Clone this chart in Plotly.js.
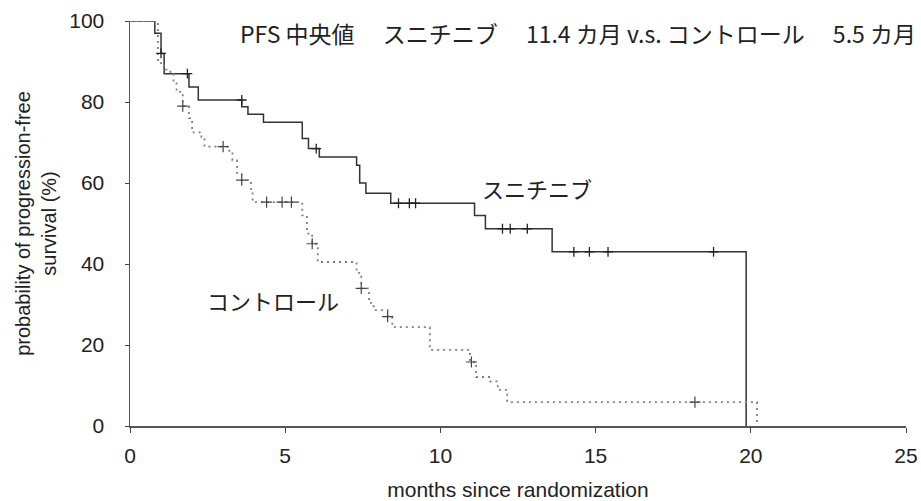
<!DOCTYPE html>
<html><head><meta charset="utf-8">
<script src="https://cdn.plot.ly/plotly-3.0.1.min.js"></script>
<style>html,body{margin:0;padding:0;background:#fff}#c{width:921px;height:501px}</style>
</head><body><div id="c"></div>
<script>
// Sunitinib (solid) step curve
const sunT = [0, 0.8, 1.0, 1.1, 1.9, 2.2, 3.6, 3.8, 4.3, 5.55, 5.75, 6.1, 7.3, 7.4, 7.6, 8.4, 11.1, 11.45, 13.6, 19.85];
const sunS = [100, 97, 92, 87, 83.7, 80.5, 78.8, 77, 75, 71, 68.5, 66.4, 64.4, 60, 57.5, 55, 52, 48.7, 43, 0];
const sunCensT = [1.0, 1.85, 3.6, 6.0, 8.65, 9.0, 9.2, 12.0, 12.25, 12.8, 14.3, 14.8, 15.4, 18.8];
const sunCensS = [92, 87, 80.5, 68.5, 55, 55, 55, 48.7, 48.7, 48.7, 43, 43, 43, 43];
// Control (dotted) step curve
const ctlT = [0, 0.9, 1.1, 1.3, 1.4, 1.5, 1.7, 1.9, 2.0, 2.3, 2.4, 3.2, 3.3, 3.45, 3.6, 3.9, 3.95, 5.55, 5.7, 5.87, 6.05, 7.3, 7.45, 7.7, 7.85, 8.3, 8.45, 9.66, 10.95, 11.15, 11.6, 11.85, 12.15, 20.2];
const ctlS = [100, 89.6, 88, 87, 85, 82.5, 79, 76, 72.5, 71.4, 69, 67.7, 65.6, 62.5, 60.7, 57.8, 55.3, 52, 47.5, 45, 40.5, 37.8, 34, 30.4, 28.6, 27, 24.4, 18.8, 15.8, 12.1, 11, 8.9, 5.9, 0];
const ctlCensT = [1.7, 3.0, 3.6, 4.4, 4.9, 5.2, 5.87, 7.45, 8.3, 11.0, 18.2];
const ctlCensS = [79, 69, 60.7, 55.3, 55.3, 55.3, 45, 34, 27, 15.8, 5.9];

const xTicks = [0, 5, 10, 15, 20, 25];
const yTicks = [0, 20, 40, 60, 80, 100];
const titleText = 'PFS 中央値　 スニチニブ　 11.4 カ月 v.s. コントロール　 5.5 カ月';
const sunLabel = 'スニチニブ';
const ctlLabel = 'コントロール';
const xTitle = 'months since randomization';
const yTitle = 'probability of progression-free<br>survival (%)';

const font = "'Liberation Sans', 'Noto Sans CJK JP', sans-serif";
const jfont = "'Noto Sans CJK JP', sans-serif";

const traces = [
  {x: sunT, y: sunS, mode: 'lines', line: {shape: 'hv', color: '#333', width: 1.5}, hoverinfo: 'skip'},
  {x: ctlT, y: ctlS, mode: 'lines', line: {shape: 'hv', color: '#808080', width: 1.8, dash: '2px,4px'}, hoverinfo: 'skip'},
  {x: sunCensT, y: sunCensS, mode: 'markers', marker: {symbol: 'cross-thin-open', size: 7, color: '#222', line: {color: '#222', width: 1.3}}},
  {x: ctlCensT, y: ctlCensS, mode: 'markers', marker: {symbol: 'cross-thin-open', size: 8, color: '#444', line: {color: '#444', width: 1.2}}}
];

const layout = {
  width: 921, height: 501,
  margin: {l: 130, r: 15, t: 21, b: 75},
  paper_bgcolor: '#fff', plot_bgcolor: '#fff',
  showlegend: false,
  font: {family: font, color: '#222', size: 20},
  xaxis: {
    range: [0, 25], tickvals: xTicks, ticktext: xTicks.map(String),
    showgrid: false, zeroline: false, showline: true, linecolor: '#555', linewidth: 1.5,
    ticks: 'outside', ticklen: 5, tickcolor: '#444', tickfont: {size: 21, family: font, color: '#222'},
    ticklabelstandoff: 5,
    title: {text: xTitle, font: {size: 21, family: font, color: '#222'}, standoff: 17}
  },
  yaxis: {
    range: [0, 100], tickvals: yTicks, ticktext: yTicks.map(String),
    showgrid: false, zeroline: false, showline: true, linecolor: '#555', linewidth: 1.5,
    ticks: 'outside', ticklen: 4, tickcolor: '#444', tickfont: {size: 21, family: font, color: '#222'},
    ticklabelstandoff: 16,
    title: {text: yTitle, font: {size: 20, family: font, color: '#222'}, standoff: 7}
  },
  annotations: [
    {x: 1, xref: 'paper', y: 97, yref: 'y', xanchor: 'right', yanchor: 'middle', xshift: 12,
     text: titleText, showarrow: false, font: {size: 23, family: jfont, color: '#222'}},
    {x: 13.1, y: 58.8, xanchor: 'center', yanchor: 'middle', text: sunLabel, showarrow: false, font: {size: 22, family: jfont, color: '#222'}},
    {x: 4.6, y: 31.1, xanchor: 'center', yanchor: 'middle', text: ctlLabel, showarrow: false, font: {size: 22, family: jfont, color: '#222'}}
  ]
};
Plotly.newPlot('c', traces, layout, {staticPlot: true});
</script></body></html>
